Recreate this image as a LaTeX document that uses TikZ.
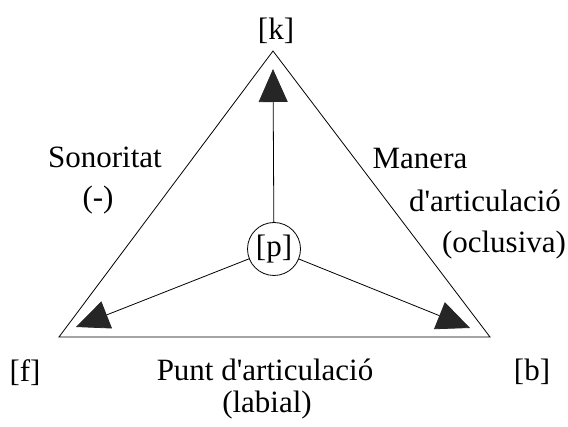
\documentclass[tikz,border=0pt]{standalone}
\usepackage{fontspec}
\setmainfont{Liberation Serif}[Ligatures=TeXOff]
\usetikzlibrary{arrows.meta}
\begin{document}
\begin{tikzpicture}[x=1pt,y=-1pt,
  lbl/.style={font=\fontsize{31}{36}\selectfont, inner sep=0pt, anchor=base},
  side/.style={line width=0.8pt, line join=miter},
  arr/.style={line width=0.8pt, -{Triangle[length=33pt,width=29pt,fill=black!85,color=black!85]}},
  pnode/.style={draw, circle, line width=0.8pt, minimum size=53pt, inner sep=0pt, font=\fontsize{31}{36}\selectfont}]
\useasboundingbox (0,0) rectangle (568,427);
% triangle
\coordinate (vk) at (273,51);
\coordinate (vf) at (59,337);
\coordinate (vb) at (490,337);
\draw[side] (vk) -- (vf) -- (vb) -- cycle;
% center node
\node[pnode] (p) at (274,249) {[p]};
% arrow tips
\coordinate (tk) at (273,69);
\coordinate (tf) at (76,327);
\coordinate (tb) at (470,328);
\draw[arr] (p) -- (tk);
\draw[arr] (p) -- (tf);
\draw[arr] (p) -- (tb);
% labels
\node[lbl] (k) at (276,39.5) {[k]};
\node[lbl] (f) at (25,382) {[f]};
\node[lbl] (b) at (532,381) {[b]};
\node[lbl] (son) at (105,168) {Sonoritat};
\node[lbl] (minus) at (98,208) {(-)};
\node[lbl] (man) at (420,169) {Manera};
\node[lbl] (dart) at (485,212) {d'articulació};
\node[lbl] (ocl) at (504,253) {(oclusiva)};
\node[lbl] (punt) at (265,381) {Punt d'articulació};
\node[lbl] (lab) at (267,413) {(labial)};
\end{tikzpicture}
\end{document}
